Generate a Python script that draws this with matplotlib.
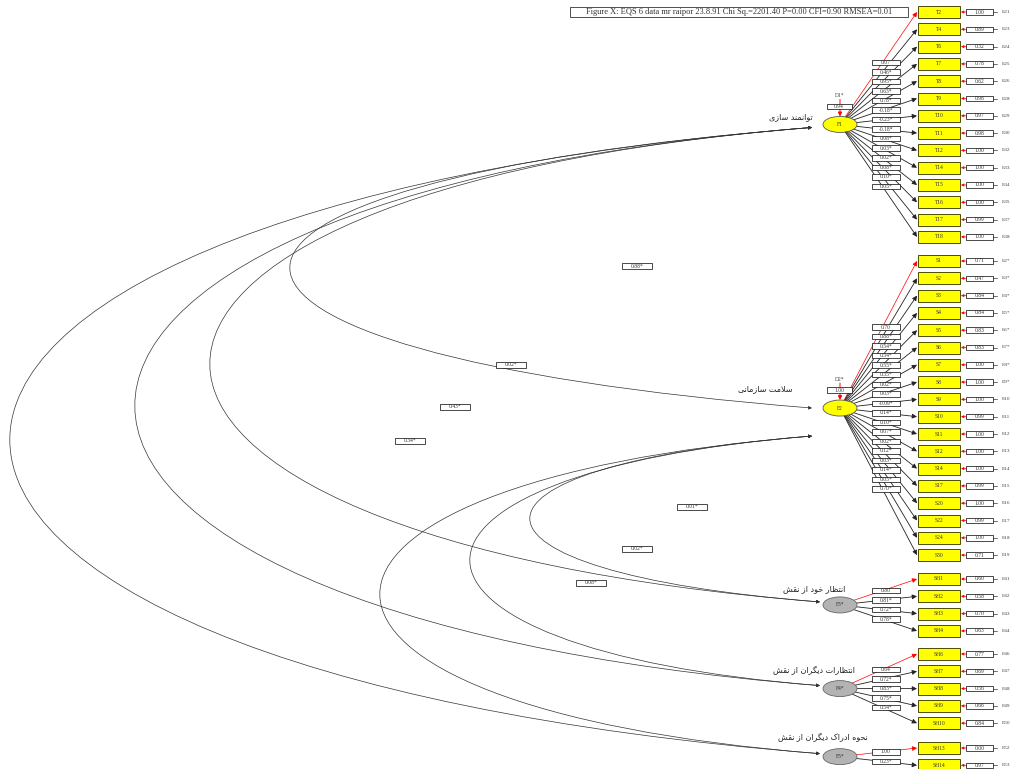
import numpy as np
import matplotlib.pyplot as plt
from matplotlib.patches import Ellipse, Rectangle, FancyArrowPatch
from matplotlib.path import Path

# ---- data ----
title = "Figure X: EQS 6 data mr raipor 23.8.91 Chi Sq.=2201.40 P=0.00 CFI=0.90 RMSEA=0.01"

t_items = ["T2", "T4", "T6", "T7", "T8", "T9", "T10", "T11", "T12", "T14", "T15", "T16", "T17", "T18"]
t_load = ["0.07", "0.46*", "0.95*", "0.63*", "0.78*", "-0.18*", "-0.23*", "-0.18*",
          "0.08*", "0.03*", "0.02*", "0.08*", "0.10*", "0.05*"]
t_err = ["1.00", "0.89", "0.32", "0.78", "0.62", "0.98", "0.97", "0.98",
         "1.00", "1.00", "1.00", "1.00", "0.99", "1.00"]
t_elab = ["E21", "E23", "E24", "E25", "E26", "E28", "E29", "E30", "E32", "E33", "E34", "E35", "E37", "E38"]

s_items = ["S1", "S2", "S3", "S4", "S5", "S6", "S7", "S8", "S9", "S10", "S11", "S12",
           "S14", "S17", "S20", "S22", "S24", "S30"]
s_load = ["0.70", "0.88*", "0.54*", "0.54*", "0.55*", "0.55*", "0.02*", "0.03*", "-0.09*",
          "0.14*", "0.10*", "0.07*", "0.02*", "0.12*", "0.03*", "0.14*", "0.05*", "0.70*"]
s_err = ["0.71", "0.47", "0.84", "0.84", "0.83", "0.83", "1.00", "1.00", "1.00",
         "0.99", "1.00", "1.00", "1.00", "0.99", "1.00", "0.99", "1.00", "0.71"]
s_elab = ["E2*", "E3*", "E4*", "E5*", "E6*", "E7*", "E8*", "E9*", "E10", "E11", "E12",
          "E13", "E14", "E15", "E16", "E17", "E18", "E19"]

sh1_items = ["SH1", "SH2", "SH3", "SH4"]
sh1_load = ["0.80", "0.81*", "0.72*", "0.78*"]
sh1_err = ["0.60", "0.58", "0.70", "0.63"]
sh1_elab = ["E41", "E42", "E43", "E44"]

sh2_items = ["SH6", "SH7", "SH8", "SH9", "SH10"]
sh2_load = ["0.64", "0.72*", "0.83*", "0.75*", "0.54*"]
sh2_err = ["0.77", "0.69", "0.56", "0.66", "0.84"]
sh2_elab = ["E46", "E47", "E48", "E49", "E50"]

sh3_items = ["SH13", "SH14"]
sh3_load = ["1.00", "0.23*"]
sh3_err = ["0.00", "0.97"]
sh3_elab = ["E52", "E53"]

factor_ids = ["F1", "F2", "F3*", "F4*", "F5*"]
factor_names = ["توانمند سازی", "سلامت سازمانی", "انتظار خود از نقش",
                "انتظارات دیگران از نقش", "نحوه ادراک دیگران از نقش"]
disturb = [("D1*", "0.94"), ("D2*", "1.00")]

# factor correlations: (factor a, factor b, value)
corr_pairs = [(0, 1, "0.88*"), (0, 2, "0.02*"), (0, 3, "0.43*"), (0, 4, "0.34*"),
              (1, 2, "0.01*"), (1, 3, "0.02*"), (1, 4, "0.08*")]

# ---- layout ----
W, H = 1014, 769
BOX_X, BOX_W, BOX_H = 918, 42, 12
ERR_X, ERR_W = 966, 27
FX = 840
GAP = 17.3
group_start = [12, 261, 579, 654, 748]
curve_left = [290, 210, 135, 10, 530, 470, 380]
curve_lab_pos = [(637, 266), (511, 365), (455, 407), (410, 441), (692, 507), (637, 549), (591, 583)]
name_pos = [(813, -8), (793, -19), (845, -16), (855, -18), (868, -19)]


# Persian shaping (matplotlib does no joining / bidi)
FORMS = {
    'ا': ('\uFE8D', '\uFE8E', None, None), 'د': ('\uFEA9', '\uFEAA', None, None),
    'ر': ('\uFEAD', '\uFEAE', None, None), 'ز': ('\uFEAF', '\uFEB0', None, None),
    'و': ('\uFEED', '\uFEEE', None, None),
    'ت': ('\uFE95', '\uFE96', '\uFE97', '\uFE98'), 'ن': ('\uFEE5', '\uFEE6', '\uFEE7', '\uFEE8'),
    'م': ('\uFEE1', '\uFEE2', '\uFEE3', '\uFEE4'), 'س': ('\uFEB1', '\uFEB2', '\uFEB3', '\uFEB4'),
    'ی': ('\uFBFC', '\uFBFD', '\uFBFE', '\uFBFF'), 'ل': ('\uFEDD', '\uFEDE', '\uFEDF', '\uFEE0'),
    'ظ': ('\uFEC5', '\uFEC6', '\uFEC7', '\uFEC8'), 'خ': ('\uFEA5', '\uFEA6', '\uFEA7', '\uFEA8'),
    'ق': ('\uFED5', '\uFED6', '\uFED7', '\uFED8'), 'ش': ('\uFEB5', '\uFEB6', '\uFEB7', '\uFEB8'),
    'گ': ('\uFB92', '\uFB93', '\uFB94', '\uFB95'), 'ح': ('\uFEA1', '\uFEA2', '\uFEA3', '\uFEA4'),
    'ه': ('\uFEE9', '\uFEEA', '\uFEEB', '\uFEEC'), 'ک': ('\uFB8E', '\uFB8F', '\uFB90', '\uFB91'),
}


def shape_fa(s):
    out = []
    i = 0
    while i < len(s):
        c = s[i]
        if c not in FORMS:
            out.append(c)
            i += 1
            continue
        prev = s[i - 1] if i > 0 else None
        link_prev = prev in FORMS and FORMS[prev][2] is not None
        if c == 'ل' and i + 1 < len(s) and s[i + 1] == 'ا':
            out.append('\uFEFC' if link_prev else '\uFEFB')
            i += 2
            continue
        nxt = s[i + 1] if i + 1 < len(s) else None
        link_next = FORMS[c][2] is not None and nxt in FORMS
        iso, fin, ini, med = FORMS[c]
        if link_prev and link_next:
            out.append(med)
        elif link_prev:
            out.append(fin)
        elif link_next:
            out.append(ini)
        else:
            out.append(iso)
        i += 1
    return ''.join(reversed(out))


fig = plt.figure(figsize=(W / 100, H / 100), dpi=100)
ax = fig.add_axes([0, 0, 1, 1])
ax.set_xlim(0, W)
ax.set_ylim(H, 0)
ax.axis('off')

SERIF = 'Liberation Serif'


def small_box(x, y, s, w=28, h=5.5, fs=4, z=6):
    ax.add_patch(Rectangle((x - w / 2, y - h / 2), w, h, fc='white', ec='black', lw=0.5, zorder=z))
    ax.text(x, y, s, fontsize=fs, family=SERIF, ha='center', va='center', color='#333333', zorder=z + 1)


def arrow(x0, y0, x1, y1, color='black', lw=0.6, ms=6, z=3):
    ax.annotate('', xy=(x1, y1), xytext=(x0, y0),
                arrowprops=dict(arrowstyle='-|>', color=color, lw=lw, mutation_scale=ms,
                                shrinkA=0, shrinkB=0), zorder=z)


groups = [
    (0, t_items, t_load, t_err, t_elab, 'yellow'),
    (1, s_items, s_load, s_err, s_elab, 'yellow'),
    (2, sh1_items, sh1_load, sh1_err, sh1_elab, 'grey'),
    (3, sh2_items, sh2_load, sh2_err, sh2_elab, 'grey'),
    (4, sh3_items, sh3_load, sh3_err, sh3_elab, 'grey'),
]

factor_y = []
for gi, (fi, items, loads, errs, elabs, kind) in enumerate(groups):
    ys = group_start[gi] + GAP * np.arange(len(items))
    fy = ys.mean()
    factor_y.append(fy)
    for k, (name, ld, er, el) in enumerate(zip(items, loads, errs, elabs)):
        y = ys[k]
        # item box
        ax.add_patch(Rectangle((BOX_X, y - BOX_H / 2), BOX_W, BOX_H, fc='#ffff00', ec='#4d4d00',
                               lw=0.7, zorder=5))
        ax.text(BOX_X + BOX_W / 2, y, name, fontsize=4, family=SERIF, ha='center', va='center',
                color='#333333', zorder=6)
        # loading path
        col = 'red' if k == 0 else '#222222'
        arrow(FX, fy, BOX_X - 1, y, color=col, lw=0.6 if k else 0.5, ms=7)
        t = 0.55
        small_box(FX + t * (BOX_X - FX) + 3, fy + t * (y - fy), ld)
        # error term
        ax.plot([ERR_X, ERR_X + ERR_W + 4], [y, y], color='black', lw=0.4, zorder=3)
        arrow(ERR_X + 2, y, BOX_X + BOX_W + 1, y, color='red', lw=0.5, ms=4)
        small_box(ERR_X + ERR_W / 2, y, er, w=ERR_W)
        ax.text(1002, y, el, fontsize=3.8, family=SERIF, ha='left', va='center', color='#444444')

    # factor ellipse
    is_main = kind == 'yellow'
    ax.add_patch(Ellipse((FX, fy), 34, 16, fc='#ffff00' if is_main else '#b3b3b3',
                         ec='#555555' if is_main else '#666666', lw=0.6, zorder=7))
    ax.text(FX, fy, factor_ids[fi], fontsize=4, family=SERIF, ha='center', va='center', zorder=8,
            color='#333333')

# disturbances on F1 and F2
for fi, (dname, dval) in enumerate(disturb):
    fy = factor_y[fi]
    ax.text(FX, fy - 29, dname, fontsize=4, family=SERIF, ha='center', va='center', color='#444444')
    arrow(FX, fy - 25, FX, fy - 8, color='red', lw=0.7, ms=6)
    small_box(FX - 1, fy - 18, dval, w=25)

# factor names
for fi, nm in enumerate(factor_names):
    xr, dy = name_pos[fi]
    ax.text(xr, factor_y[fi] + dy, shape_fa(nm), fontsize=5.8, family='DejaVu Sans',
            ha='right', va='center', color='#222222')


# correlation arcs between factors
def end_point(fi, as_upper):
    fy = factor_y[fi]
    if fi == 0:
        return 812, fy + 3
    if fi == 1:
        return (812, fy + 28) if as_upper else (812, fy)
    return 820, fy - 3


for (a, b, val), xl, (lx, ly) in zip(corr_pairs, curve_left, curve_lab_pos):
    x0, y0 = end_point(a, True)
    x1, y1 = end_point(b, False)
    c = (xl - 0.125 * (x0 + x1)) / 0.75
    k = min(0.08 * (x0 - c), 0.3 * (y1 - y0))
    verts = [(x0, y0), (c, y0 + k), (c, y1 - k), (x1, y1)]
    path = Path(verts, [Path.MOVETO, Path.CURVE4, Path.CURVE4, Path.CURVE4])
    ax.add_patch(FancyArrowPatch(path=path, arrowstyle='<|-|>', mutation_scale=5, lw=0.5,
                                 color='#333333', zorder=2))
    small_box(lx, ly, val, w=30)

# title
ax.add_patch(Rectangle((570, 7), 338, 10, fc='white', ec='#333333', lw=0.6, zorder=5))
ax.text(739, 12, title, fontsize=6, family=SERIF, ha='center', va='center', color='#333333', zorder=6)

fig.savefig('out.png', dpi=100)
